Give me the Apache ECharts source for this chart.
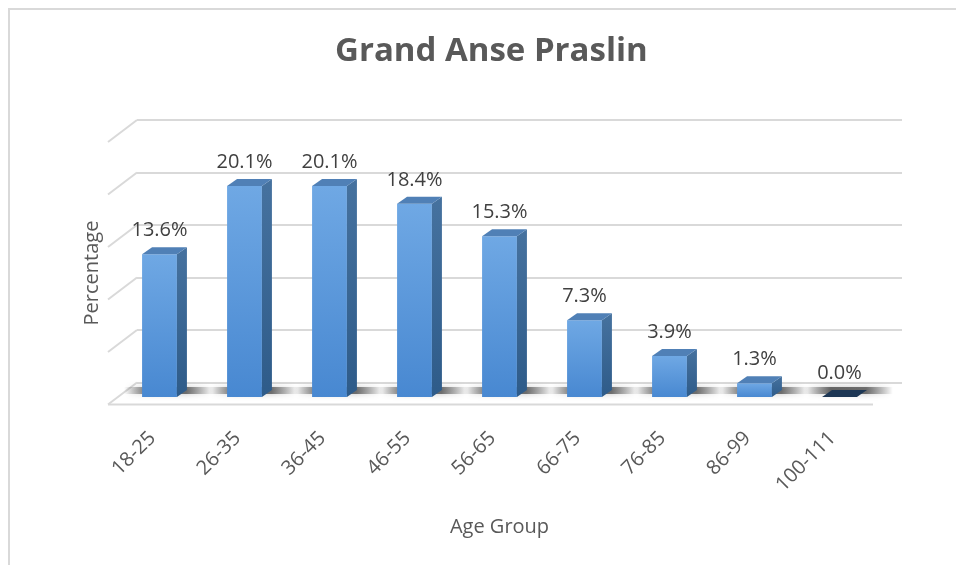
<!DOCTYPE html>
<html>
<head>
<meta charset="utf-8">
<script src="https://cdn.jsdelivr.net/npm/echarts@6/dist/echarts.min.js"></script>
<style>
  html, body { margin: 0; padding: 0; background: #fff; }
  #main { width: 956px; height: 565px; }
</style>
</head>
<body>
<div id="main"></div>
<script>
  // age groups and share of respondents (%)
  const ageGroups = ['18-25', '26-35', '36-45', '46-55', '56-65', '66-75', '76-85', '86-99', '100-111'];
  const percentValues = [13.6, 20.1, 20.1, 18.4, 15.3, 7.3, 3.9, 1.3, 0.0];
  const gridTicks = [0, 5, 10, 15, 20, 25];

  const FONT = '"Open Sans", "DejaVu Sans", sans-serif';
  const DEPTH_X = 10, DEPTH_Y = -7;       // column depth
  const FLOOR_X = -29, FLOOR_Y = 22;      // floor / wall perspective

  const chart = echarts.init(document.getElementById('main'));

  // back wall stubs + floor front edge
  function renderWall(params, api) {
    const cs = params.coordSys;
    const y = api.coord([0, api.value(1)])[1];
    const lineStyle = { stroke: '#d9d9d9', lineWidth: 2 };
    const children = [{
      type: 'line',
      shape: { x1: cs.x + FLOOR_X, y1: y + FLOOR_Y, x2: cs.x, y2: y },
      style: lineStyle
    }];
    if (api.value(1) === 0) {
      children.push({
        type: 'line',
        shape: { x1: cs.x + FLOOR_X, y1: y + FLOOR_Y, x2: cs.x + cs.width + FLOOR_X, y2: y + FLOOR_Y },
        style: lineStyle
      });
    }
    return { type: 'group', children: children };
  }

  // 3d looking column
  function renderColumn(params, api) {
    const i = api.value(0), v = api.value(1);
    const base = api.coord([i, 0]);
    const topPt = api.coord([i, v]);
    const bw = api.size([1, 0])[0] * 0.41;
    const l = base[0] - bw / 2, r = base[0] + bw / 2;
    const b = base[1], t = topPt[1];
    const flat = (b - t) < 1;

    const shadow = {
      type: 'rect',
      shape: { x: l - 18, y: b - 10, width: bw + 54, height: 7 },
      style: {
        fill: new echarts.graphic.LinearGradient(0, 0, 1, 0, [
          { offset: 0, color: 'rgba(50,50,50,0)' },
          { offset: 0.3, color: 'rgba(50,50,50,0.7)' },
          { offset: 0.7, color: 'rgba(50,50,50,0.65)' },
          { offset: 1, color: 'rgba(50,50,50,0)' }
        ]),
        shadowBlur: 6,
        shadowColor: 'rgba(0,0,0,0.35)'
      }
    };
    const front = {
      type: 'rect',
      shape: { x: l, y: t, width: bw, height: b - t },
      style: {
        fill: new echarts.graphic.LinearGradient(0, 0, 0, 1, [
          { offset: 0, color: '#6fa8e4' },
          { offset: 1, color: '#4888d1' }
        ])
      }
    };
    const side = {
      type: 'polygon',
      shape: { points: [[r, b], [r + DEPTH_X, b + DEPTH_Y], [r + DEPTH_X, t + DEPTH_Y], [r, t]] },
      style: {
        fill: new echarts.graphic.LinearGradient(0, 0, 0, 1, [
          { offset: 0, color: '#46729f' },
          { offset: 1, color: '#2e5b89' }
        ])
      }
    };
    const top = {
      type: 'polygon',
      shape: { points: [[l, t], [l + DEPTH_X, t + DEPTH_Y], [r + DEPTH_X, t + DEPTH_Y], [r, t]] },
      style: { fill: flat ? '#1c3654' : '#5080b6' }
    };
    const label = {
      type: 'text',
      x: base[0],
      y: t - 24,
      style: {
        text: v.toFixed(1) + '%',
        fill: '#404040',
        font: '20px ' + FONT,
        align: 'center',
        verticalAlign: 'middle'
      }
    };
    return { type: 'group', children: [shadow, front, side, top, label] };
  }

  const option = {
    backgroundColor: '#fff',
    title: {
      text: 'Grand Anse Praslin',
      left: 330,
      top: 30,
      textStyle: { color: '#595959', fontFamily: FONT, fontSize: 33, fontWeight: 'bold' }
    },
    graphic: [
      {
        type: 'polyline',
        shape: { points: [[9, 565], [9, 9], [956, 9]] },
        style: { stroke: '#d9d9d9', lineWidth: 2, fill: null }
      },
      {
        type: 'text',
        x: 92, y: 273, rotation: Math.PI / 2,
        style: {
          text: 'Percentage', fill: '#595959', font: '20px ' + FONT,
          align: 'center', verticalAlign: 'middle'
        }
      }
    ],
    grid: [
      { left: 137, right: 54, top: 120, bottom: 182.5 },   // back wall
      { left: 117, right: 74, top: 134.5, bottom: 168 }    // columns (front)
    ],
    xAxis: [
      {
        gridIndex: 0, type: 'category', data: ageGroups,
        axisLine: { show: false }, axisTick: { show: false }, axisLabel: { show: false }
      },
      {
        gridIndex: 1, type: 'category', data: ageGroups,
        name: 'Age Group', nameLocation: 'middle', nameGap: 120,
        nameTextStyle: { color: '#595959', fontFamily: FONT, fontSize: 20 },
        axisLine: { show: false }, axisTick: { show: false },
        axisLabel: {
          rotate: 45, margin: 31, color: '#595959', fontFamily: FONT, fontSize: 20,
          padding: [0, 10, 0, 0]
        }
      }
    ],
    yAxis: [
      {
        gridIndex: 0, type: 'value', min: 0, max: 25, interval: 5,
        axisLabel: { show: false }, axisLine: { show: false }, axisTick: { show: false },
        splitLine: { lineStyle: { color: '#d9d9d9', width: 2 } }
      },
      {
        gridIndex: 1, type: 'value', min: 0, max: 25, interval: 5,
        axisLabel: { show: false }, axisLine: { show: false }, axisTick: { show: false },
        splitLine: { show: false }
      }
    ],
    series: [
      {
        type: 'custom', name: 'wall', xAxisIndex: 0, yAxisIndex: 0,
        renderItem: renderWall, clip: false, silent: true,
        data: gridTicks.map(v => [0, v]), z: 1
      },
      {
        type: 'custom', name: 'Percentage', xAxisIndex: 1, yAxisIndex: 1,
        renderItem: renderColumn, clip: false,
        data: percentValues.map((v, i) => [i, v]), z: 5
      }
    ]
  };

  chart.setOption(option);
</script>
</body>
</html>
